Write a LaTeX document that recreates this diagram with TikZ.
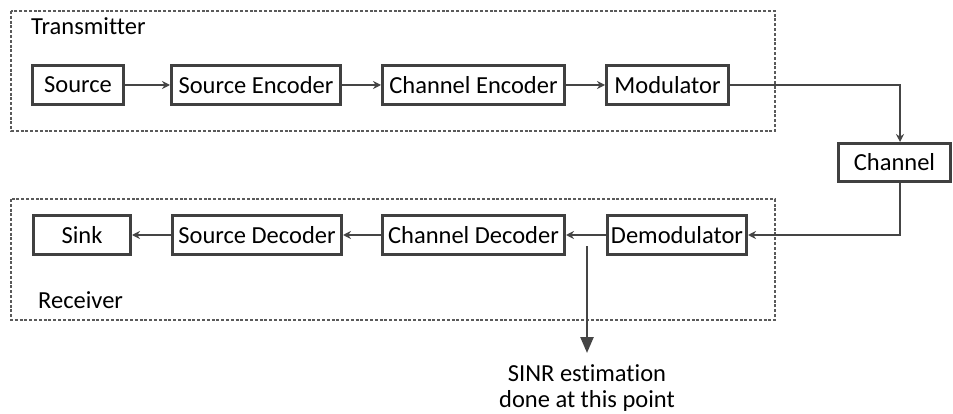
\documentclass[tikz,border=0pt]{standalone}
\usepackage{fontspec}
\setmainfont{Carlito}[Ligatures=NoCommon]
\usetikzlibrary{arrows.meta}
\definecolor{boxc}{HTML}{404040}
\definecolor{linec}{HTML}{454545}
\definecolor{dashc}{HTML}{5A5A5A}
\begin{document}
\begin{tikzpicture}[x=1pt,y=-1pt,
  font=\fontsize{24.5}{26}\selectfont,
  blk/.style={draw=boxc, line width=3pt, inner sep=0pt, minimum height=39pt, text=black},
  conn/.style={draw=linec, line width=1.5pt, -{Stealth[length=8pt,width=8pt]}},
  sinrarrow/.style={draw=linec, line width=2.5pt, -{Triangle[length=16pt,width=13pt]}},
  grp/.style={draw=dashc, line width=1.8pt, dash pattern=on 3pt off 1.8pt}]
\useasboundingbox (0,0) rectangle (953,414);

% group frames
\draw[grp] (11,11) rectangle (775,131);
\draw[grp] (11,199) rectangle (775,320);
\node[anchor=base west, inner sep=0pt] (tx) at (31,35) {Transmitter};
\node[anchor=base west, inner sep=0pt] (rx) at (38,308) {Receiver};

% transmitter row
\node[blk, minimum width=91pt] (src) at (78,85) {Source};
\node[blk, minimum width=169pt] (senc) at (256,85) {Source Encoder};
\node[blk, minimum width=182pt] (cenc) at (473.5,85) {Channel Encoder};
\node[blk, minimum width=122pt] (mod) at (667.5,85) {Modulator};

% channel
\node[blk, minimum width=112pt, minimum height=38pt] (ch) at (894.5,162.5) {Channel};
\coordinate (cx) at (900,0);

% receiver row
\node[blk, minimum width=97pt] (sink) at (82,235) {Sink};
\node[blk, minimum width=169pt] (sdec) at (257,235) {Source Decoder};
\node[blk, minimum width=182pt] (cdec) at (473.5,235) {Channel Decoder};
\node[blk, minimum width=139pt] (dem) at (677,235) {Demodulator};

% connectors
\draw[conn] (src) -- (senc);
\draw[conn] (senc) -- (cenc);
\draw[conn] (cenc) -- (mod);
\draw[conn] (mod.east) -| (ch.north -| cx);
\draw[conn] (ch.south -| cx) |- (dem.east);
\draw[conn] (dem) -- (cdec);
\draw[conn] (cdec) -- (sdec);
\draw[conn] (sdec) -- (sink);

% SINR estimation point
\coordinate (s0) at (587,246);
\coordinate (s1) at (587,353);
\draw[sinrarrow] (s0) -- (s1);
\node[anchor=north, align=center, inner sep=0pt] (sinr) at (587,364.5) {SINR estimation\\done at this point};
\end{tikzpicture}
\end{document}
